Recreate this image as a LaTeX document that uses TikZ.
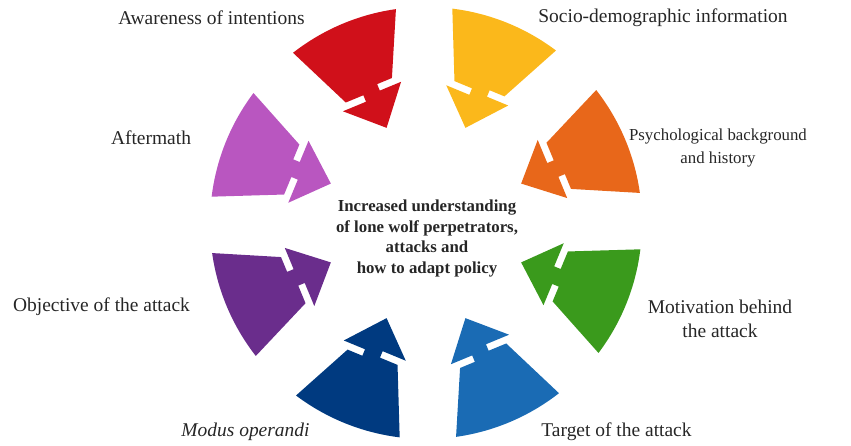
\documentclass[tikz,border=0pt]{standalone}
\usepackage{fontspec}
\setmainfont{Liberation Serif}
\usepackage{tikz}
\usetikzlibrary{arrows,positioning}

\definecolor{segred}{RGB}{208,16,26}
\definecolor{segyellow}{RGB}{251,184,27}
\definecolor{segorange}{RGB}{232,103,26}
\definecolor{seggreen}{RGB}{58,154,28}
\definecolor{segblue}{RGB}{26,107,180}
\definecolor{segnavy}{RGB}{0,58,128}
\definecolor{segpurple}{RGB}{106,45,140}
\definecolor{segviolet}{RGB}{185,86,192}

\begin{document}
\begin{tikzpicture}[x=0.75pt,y=0.75pt]
\tikzstyle{label}=[font=\fontsize{14.6}{17.5}\selectfont, align=center, text=black!85, inner sep=0pt]
\tikzstyle{hub}=[font=\fontsize{12.6}{15.4}\selectfont\bfseries, align=center, text=black!85, inner sep=0pt]
\useasboundingbox (0,0) rectangle (851,446);
\coordinate (c) at (426,223);

% eight broken arrows pointing to the middle
\foreach \ang/\col in {112.5/segred, 67.5/segyellow, 22.5/segorange, -22.5/seggreen,
  -67.5/segblue, -112.5/segnavy, -157.5/segpurple, 157.5/segviolet}{
\fill[\col, shift={(c)}, rotate=\ang] (-14.5:216) -- (147,-24) -- (147,-8) -- (140,-8)
  -- (140,-31) -- (103,0) -- (135,34) -- (135,9) -- (142,9) -- (142,28) -- (15.5:216)
  arc[start angle=15.5, end angle=-14.5, radius=216] -- cycle;
}

\node[hub] (goal) at (427,207.5) {Increased understanding\\of lone wolf perpetrators,\\attacks and\\how to adapt policy};

\node[label] (aware) at (211.5,428) {Awareness of intentions};
\node[label] (socio) at (663,428) {Socio-demographic information};
\node[label] (after) at (151,308) {Aftermath};
\node[label, font=\fontsize{12.6}{17.5}\selectfont] (psych) at (718,298) {Psychological background\\and history};
\node[label] (object) at (101.5,139) {Objective of the attack};
\node[label] (motiv) at (720,127) {Motivation behind\\the attack};
\node[label] (modus) at (245.5,14) {\textit{Modus operandi}};
\node[label] (target) at (616.5,14) {Target of the attack};
\end{tikzpicture}
\end{document}
